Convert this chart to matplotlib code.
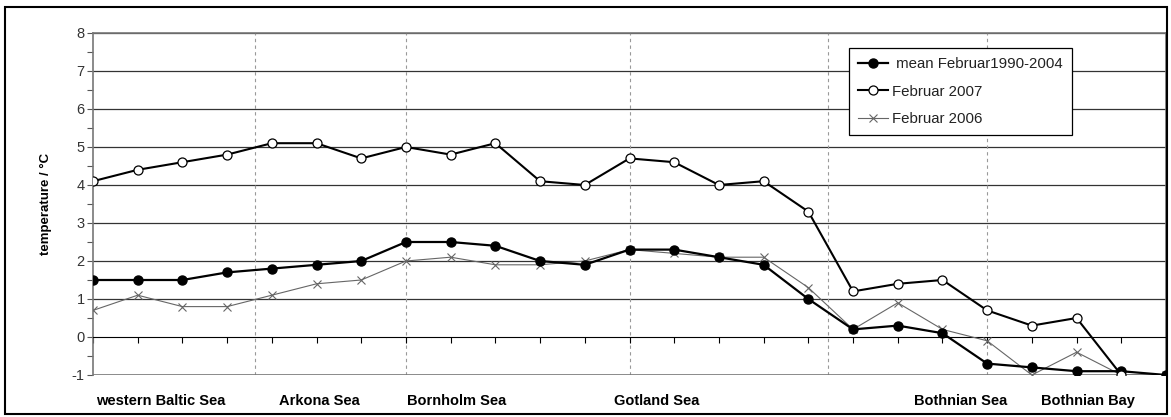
import numpy as np
import matplotlib.pyplot as plt
from matplotlib.patches import Rectangle

plt.rcParams['font.family'] = ['Liberation Sans', 'DejaVu Sans']
plt.rcParams['axes.unicode_minus'] = False

# ================================
# Data (25 stations along the Baltic, west -> north)
# ================================
station = np.arange(25)
mean_1990_2004 = [1.5, 1.5, 1.5, 1.7, 1.8, 1.9, 2.0, 2.5, 2.5, 2.4, 2.0, 1.9, 2.3,
                  2.3, 2.1, 1.9, 1.0, 0.2, 0.3, 0.1, -0.7, -0.8, -0.9, -0.9, -1.0]
feb_2007 = [4.1, 4.4, 4.6, 4.8, 5.1, 5.1, 4.7, 5.0, 4.8, 5.1, 4.1, 4.0, 4.7,
            4.6, 4.0, 4.1, 3.3, 1.2, 1.4, 1.5, 0.7, 0.3, 0.5, -1.0, np.nan]
feb_2006 = [0.7, 1.1, 0.8, 0.8, 1.1, 1.4, 1.5, 2.0, 2.1, 1.9, 1.9, 2.0, 2.3,
            2.2, 2.1, 2.1, 1.3, 0.2, 0.9, 0.2, -0.1, -1.0, -0.4, -1.0, -1.0]

region_names = ["western Baltic Sea", "Arkona Sea", "Bornholm Sea",
                "Gotland Sea", "Bothnian Sea", "Bothnian Bay"]
region_label_x = [1.52, 5.07, 8.13, 12.6, 19.4, 22.25]
region_bounds = [3.63, 7.0, 12.0, 16.44, 20.0]

# ================================
# Figure
# ================================
W, H = 1171, 417
fig = plt.figure(figsize=(W / 100, H / 100), dpi=100)
fig.patches.append(Rectangle((5 / W, 3 / H), 1162 / W, 407 / H, transform=fig.transFigure,
                             fill=False, edgecolor='black', linewidth=1.5))

ax = fig.add_axes([93 / W, (H - 375) / H, (1166 - 93) / W, (375 - 33) / H])

# grid + region separators
for v in range(1, 9):
    ax.axhline(v, color='#333333', linewidth=0.9, zorder=1)
for b in region_bounds:
    ax.axvline(b, color='#999999', linewidth=0.8, linestyle=(0, (3, 3)), zorder=1)

ax.plot(station, feb_2006, color='#666666', linewidth=0.8, marker='x',
        markersize=6, markeredgewidth=0.8, label='Februar 2006', zorder=3)
ax.plot(station, mean_1990_2004, color='black', linewidth=1.6, marker='o',
        markersize=6.5, markerfacecolor='black', label=' mean Februar1990-2004', zorder=4)
ax.plot(station, feb_2007, color='black', linewidth=1.5, marker='o',
        markersize=6.5, markerfacecolor='white', markeredgewidth=0.9,
        label='Februar 2007', zorder=4)

ax.set_xlim(0, 24)
ax.set_ylim(-1, 8)
ax.set_yticks(range(-1, 9))
ax.set_yticks(np.arange(-1, 8.5, 0.5), minor=True)
ax.tick_params(axis='y', which='both', direction='out', length=4, width=0.8,
               colors='#555555', labelcolor='#333333', labelsize=10.5, pad=2)
ax.set_ylabel('temperature / °C', fontsize=9.5, fontweight='bold', labelpad=14)

# x axis drawn on the zero line
ax.spines['bottom'].set_position(('data', 0))
ax.spines['bottom'].set_color('black')
ax.set_xticks(station)
ax.set_xticklabels([])
ax.tick_params(axis='x', direction='out', length=4, width=0.8, color='black')
ax.axhline(-1, color='#777777', linewidth=1.2, zorder=1)
for s in ['top', 'right', 'left']:
    ax.spines[s].set_color('#777777')
    ax.spines[s].set_linewidth(1.2)

for name, xpos in zip(region_names, region_label_x):
    ax.text(xpos, -1.68, name, ha='center', va='center', fontsize=10.5,
            fontweight='bold', clip_on=False)

handles, labels = ax.get_legend_handles_labels()
order = [1, 2, 0]
leg = ax.legend([handles[i] for i in order], [labels[i] for i in order],
                loc='upper left', bbox_to_anchor=(849 / W, 1 - 48 / H),
                bbox_transform=fig.transFigure, borderaxespad=0,
                fontsize=10.8, frameon=True, fancybox=False, edgecolor='black',
                framealpha=1, handlelength=2.0, handletextpad=0.3,
                labelspacing=0.9, borderpad=0.6)
leg.get_frame().set_linewidth(0.9)
for t in leg.get_texts():
    t.set_color('#222222')

fig.savefig('out.png', dpi=100)
